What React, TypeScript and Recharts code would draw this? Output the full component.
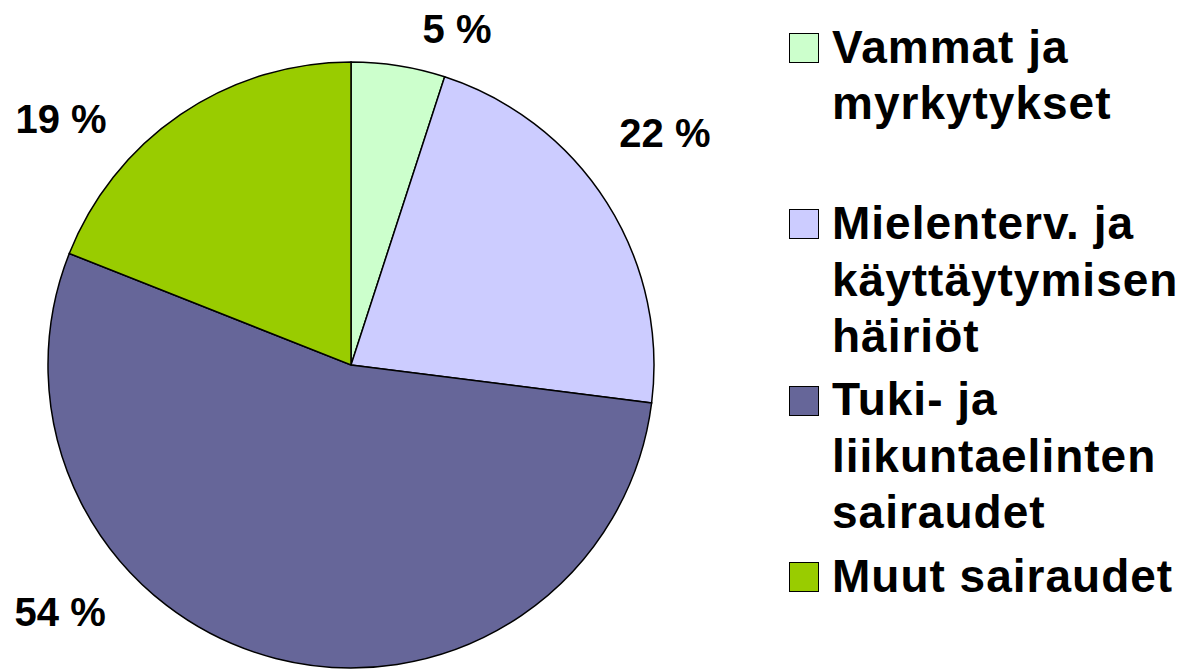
import React from 'react';
import { PieChart, Pie, Cell, Legend } from 'recharts';

const categories = [
  'Vammat ja\nmyrkytykset',
  'Mielenterv. ja\nkäyttäytymisen\nhäiriöt',
  'Tuki- ja\nliikuntaelinten\nsairaudet',
  'Muut sairaudet',
];
const values = [5, 22, 54, 19];
const valueLabels = ['5 %', '22 %', '54 %', '19 %'];
const colors = ['#CCFFCC', '#CCCCFF', '#666699', '#99CC00'];
// label anchor offsets relative to pie centre, in units of the outer radius
const labelOffsetX = [0.35, 1.036, -0.96, -0.957];
const labelOffsetY = [-1.109, -0.767, 0.815, -0.815];

const data = categories.map((name, i) => ({ name, value: values[i] }));

const FONT = '"Liberation Sans", Arial, Helvetica, sans-serif';

const renderLabel = (props: any) => {
  const { cx, cy, outerRadius, index } = props;
  const x = cx + labelOffsetX[index] * outerRadius;
  const y = cy + labelOffsetY[index] * outerRadius;
  return (
    <text
      x={x}
      y={y + 14.5}
      textAnchor="middle"
      fill="#000"
      style={{ fontFamily: FONT, fontWeight: 700, fontSize: 40 }}
    >
      {valueLabels[index]}
    </text>
  );
};

const LegendContent = (props: any) => {
  const payload: any[] = props.payload || [];
  const ordered = categories
    .map((c) => payload.find((p) => String(p.value) === c))
    .filter(Boolean) as any[];
  return (
    <div style={{ fontFamily: FONT, fontWeight: 700, fontSize: 46, color: '#000' }}>
      {ordered.map((entry: any, i: number) => (
        <div key={i} style={{ position: 'relative', height: 176.3 }}>
          <div
            style={{
              position: 'absolute',
              left: 0,
              top: 14.2,
              width: 28,
              height: 28,
              background: entry.color,
              border: '1.5px solid #000',
            }}
          />
          <div
            style={{
              position: 'absolute',
              left: 43,
              top: 0,
              lineHeight: '56.5px',
              letterSpacing: 1,
              whiteSpace: 'pre',
            }}
          >
            {String(entry.value)}
          </div>
        </div>
      ))}
    </div>
  );
};

export default function App() {
  return (
    <div style={{ position: 'absolute', left: 0, top: 0, width: 1184, height: 670, background: '#fff' }}>
      <PieChart width={1184} height={670} margin={{ top: 0, right: 0, bottom: 0, left: 0 }}>
        <Pie
          data={data}
          dataKey="value"
          nameKey="name"
          cx={351}
          cy={365}
          outerRadius={303}
          startAngle={90}
          endAngle={-270}
          stroke="#000"
          strokeWidth={1.5}
          label={renderLabel}
          labelLine={false}
          isAnimationActive={false}
        >
          {data.map((d, i) => (
            <Cell key={d.name} fill={colors[i]} />
          ))}
        </Pie>
        <Legend
          layout="vertical"
          align="right"
          verticalAlign="top"
          content={<LegendContent />}
          wrapperStyle={{ position: 'absolute', left: 789, top: 18.8, width: 395 }}
        />
      </PieChart>
    </div>
  );
}
